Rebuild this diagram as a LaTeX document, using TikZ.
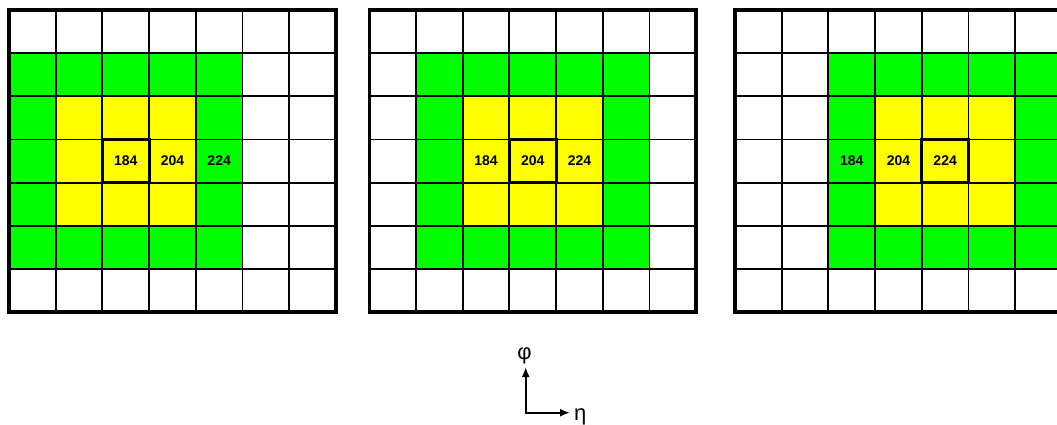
\documentclass[tikz,border=0pt]{standalone}
\usepackage{fontspec}
\setmainfont{Liberation Sans}
\usetikzlibrary{arrows.meta}
\definecolor{gr}{RGB}{0,255,0}
\definecolor{ye}{RGB}{255,255,0}
\begin{document}
\begin{tikzpicture}[x=1pt,y=-1pt,
  gridline/.style={draw=black,line width=1.9pt},
  frame/.style={draw=black,line width=3.6pt},
  centerbox/.style={draw=black,line width=3pt},
  num/.style={inner sep=0pt,font=\fontsize{14}{16}\selectfont\bfseries},
  axlabel/.style={inner sep=0pt,font=\fontsize{22}{26}\selectfont},
  axis/.style={line width=2pt,{Latex[length=10pt,width=8pt]}-{Latex[length=10pt,width=8pt]}}]
\useasboundingbox (0,0) rectangle (1057,424);
\clip (0,0) rectangle (1057,424);
\fill[white] (0,0) rectangle (1057,424);
\def\cw{46.7}
\def\ch{43.15}
\foreach \k/\ox in {0/9,1/369.3,2/735}{
  \pgfmathtruncatemacro\c{2+\k}
  \begin{scope}[shift={(\ox,10)}]
    \fill[gr] ({(\c-2)*\cw},{1*\ch}) rectangle ({(\c+3)*\cw},{6*\ch});
    \fill[ye] ({(\c-1)*\cw},{2*\ch}) rectangle ({(\c+2)*\cw},{5*\ch});
    \foreach \i in {1,...,6}{
      \draw[gridline] ({\i*\cw},0) -- ({\i*\cw},{7*\ch});
      \draw[gridline] (0,{\i*\ch}) -- ({7*\cw},{\i*\ch});
    }
    \draw[frame] (0,0) rectangle ({7*\cw},{7*\ch});
    \draw[centerbox] ({\c*\cw},{3*\ch}) rectangle ({(\c+1)*\cw},{4*\ch});
    \node[num] (a\k) at ({2.5*\cw},{3.5*\ch}) {184};
    \node[num] (b\k) at ({3.5*\cw},{3.5*\ch}) {204};
    \node[num] (c\k) at ({4.5*\cw},{3.5*\ch}) {224};
  \end{scope}
}
\coordinate (o) at (525.7,412.7);
\coordinate (up) at (525.7,367);
\coordinate (rt) at (570,412.7);
\draw[axis] (up) -- (o) -- (rt);
\node[axlabel,anchor=base] (phi) at (524.5,359.5) {φ};
\node[axlabel,anchor=base west] (eta) at (574,420.5) {η};
\end{tikzpicture}
\end{document}
